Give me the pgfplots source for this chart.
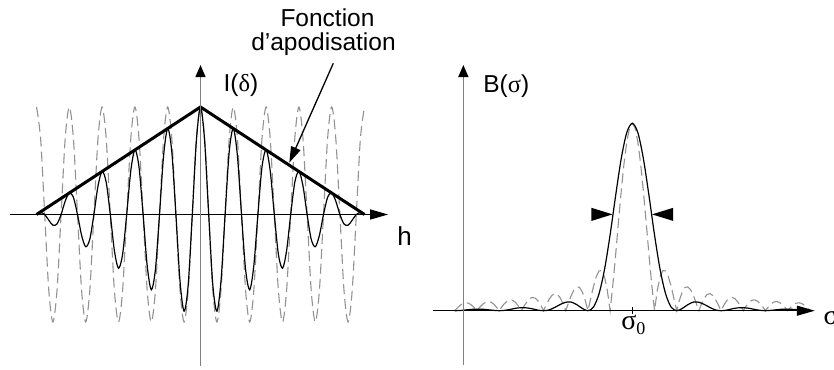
\documentclass[border=0pt]{standalone}
\usepackage{fontspec}
\setmainfont{Liberation Sans}
\newfontfamily\symf{Liberation Serif}
\usepackage{pgfplots}
\pgfplotsset{compat=1.18}
\usetikzlibrary{arrows.meta}
\definecolor{dashgray}{HTML}{929292}
\definecolor{axgray}{HTML}{808080}

\begin{document}
\begin{tikzpicture}[font=\fontsize{12.25}{14}\selectfont]
\useasboundingbox (0pt,0pt) rectangle (417pt,184.5pt);

% interferogramme I(delta)
\begin{axis}[at={(100.25pt,77.25pt)}, anchor=center, x=16.4pt, y=53.75pt,
  xmin=-6, xmax=6, ymin=-1.5, ymax=1.5, hide axis, clip=false]
  % cosinus non apodise
  \addplot[dashgray, line width=0.55pt, dash pattern=on 5pt off 2.5pt, smooth] coordinates {
    (-5,1)(-4.875,.707)(-4.75,0)(-4.625,-.707)(-4.5,-1)(-4.375,-.707)(-4.25,0)(-4.125,.707)
    (-4,1)(-3.875,.707)(-3.75,0)(-3.625,-.707)(-3.5,-1)(-3.375,-.707)(-3.25,0)(-3.125,.707)
    (-3,1)(-2.875,.707)(-2.75,0)(-2.625,-.707)(-2.5,-1)(-2.375,-.707)(-2.25,0)(-2.125,.707)
    (-2,1)(-1.875,.707)(-1.75,0)(-1.625,-.707)(-1.5,-1)(-1.375,-.707)(-1.25,0)(-1.125,.707)
    (-1,1)(-.875,.707)(-.75,0)(-.625,-.707)(-.5,-1)(-.375,-.707)(-.25,0)(-.125,.707)
    (0,1)(.125,.707)(.25,0)(.375,-.707)(.5,-1)(.625,-.707)(.75,0)(.875,.707)
    (1,1)(1.125,.707)(1.25,0)(1.375,-.707)(1.5,-1)(1.625,-.707)(1.75,0)(1.875,.707)
    (2,1)(2.125,.707)(2.25,0)(2.375,-.707)(2.5,-1)(2.625,-.707)(2.75,0)(2.875,.707)
    (3,1)(3.125,.707)(3.25,0)(3.375,-.707)(3.5,-1)(3.625,-.707)(3.75,0)(3.875,.707)
    (4,1)(4.125,.707)(4.25,0)(4.375,-.707)(4.5,-1)(4.625,-.707)(4.75,0)(4.875,.707)
    (5,1)
  };
  % cosinus apodise
  \addplot[black, line width=0.6pt, smooth] coordinates {
    (-5,0)(-4.875,.018)(-4.75,0)(-4.625,-.053)(-4.5,-.1)(-4.375,-.088)(-4.25,0)(-4.125,.124)
    (-4,.2)(-3.875,.159)(-3.75,0)(-3.625,-.194)(-3.5,-.3)(-3.375,-.230)(-3.25,0)(-3.125,.265)
    (-3,.4)(-2.875,.300)(-2.75,0)(-2.625,-.336)(-2.5,-.5)(-2.375,-.371)(-2.25,0)(-2.125,.407)
    (-2,.6)(-1.875,.442)(-1.75,0)(-1.625,-.477)(-1.5,-.7)(-1.375,-.513)(-1.25,0)(-1.125,.548)
    (-1,.8)(-.875,.583)(-.75,0)(-.625,-.619)(-.5,-.9)(-.375,-.654)(-.25,0)(-.125,.689)
    (0,1)
    (.125,.689)(.25,0)(.375,-.654)(.5,-.9)(.625,-.619)(.75,0)(.875,.583)(1,.8)
    (1.125,.548)(1.25,0)(1.375,-.513)(1.5,-.7)(1.625,-.477)(1.75,0)(1.875,.442)(2,.6)
    (2.125,.407)(2.25,0)(2.375,-.371)(2.5,-.5)(2.625,-.336)(2.75,0)(2.875,.300)(3,.4)
    (3.125,.265)(3.25,0)(3.375,-.230)(3.5,-.3)(3.625,-.194)(3.75,0)(3.875,.159)(4,.2)
    (4.125,.124)(4.25,0)(4.375,-.088)(4.5,-.1)(4.625,-.053)(4.75,0)(4.875,.018)(5,0)
  };
  % fonction d'apodisation
  \addplot[black, line width=1.5pt] coordinates {(-5,0)(0,1)(5,0)};
  % axes
  \draw[line width=0.65pt, -{Triangle[length=9pt,width=5pt]}] (axis cs:-5.81,0) -- (axis cs:5.72,0);
  \draw[axgray, line width=0.75pt, -{Triangle[length=6pt,width=5pt,color=black]}] (axis cs:0,-1.41) -- (axis cs:0,1.39);
  \node[anchor=base west, inner sep=0] at (axis cs:0.69,1.14) {I({\symf δ})};
  \node[anchor=base west, inner sep=0] at (axis cs:5.99,-0.284) {\fontsize{13}{14}\selectfont h};
\end{axis}

\node[anchor=base, inner sep=0] at (163.75pt,171pt) {Fonction};
\node[anchor=base, inner sep=0] at (161.75pt,159pt) {d’apodisation};
\draw[line width=0.65pt, -{Triangle[length=8pt,width=5pt]}] (166.65pt,152.85pt) -- (144.65pt,103.15pt);

% spectre B(sigma)
\begin{axis}[at={(316.15pt,29.15pt)}, anchor=center, x=11.1pt, y=93.7pt,
  xmin=-10, xmax=10, ymin=-1.5, ymax=1.5, hide axis, clip=false]
  % sinus cardinal (sans apodisation)
  \addplot[dashgray, line width=0.55pt, dash pattern=on 5pt off 2.5pt] coordinates {
    (-8,0)(-7.875,.015)(-7.75,.029)(-7.625,.039)(-7.5,.042)(-7.375,.040)(-7.25,.031)(-7.125,.017)
    (-7,0)(-6.875,.018)(-6.75,.033)(-6.625,.044)(-6.5,.049)(-6.375,.046)(-6.25,.036)(-6.125,.020)
    (-6,0)(-5.875,.021)(-5.75,.039)(-5.625,.052)(-5.5,.058)(-5.375,.055)(-5.25,.043)(-5.125,.024)
    (-5,0)(-4.875,.025)(-4.75,.047)(-4.625,.064)(-4.5,.071)(-4.375,.067)(-4.25,.053)(-4.125,.030)
    (-4,0)(-3.875,.031)(-3.75,.060)(-3.625,.081)(-3.5,.091)(-3.375,.087)(-3.25,.069)(-3.125,.039)
    (-3,0)(-2.875,.042)(-2.75,.082)(-2.625,.112)(-2.5,.127)(-2.375,.124)(-2.25,.100)(-2.125,.057)
    (-2,0)(-1.875,.065)(-1.75,.129)(-1.625,.181)(-1.5,.212)(-1.375,.214)(-1.25,.180)(-1.125,.108)
    (-1,0)(-.875,.139)(-.75,.300)(-.625,.471)(-.5,.637)(-.375,.784)(-.25,.900)(-.125,.975)
    (0,1)
    (.125,.975)(.25,.900)(.375,.784)(.5,.637)(.625,.471)(.75,.300)(.875,.139)(1,0)
    (1.125,.108)(1.25,.180)(1.375,.214)(1.5,.212)(1.625,.181)(1.75,.129)(1.875,.065)(2,0)
    (2.125,.057)(2.25,.100)(2.375,.124)(2.5,.127)(2.625,.112)(2.75,.082)(2.875,.042)(3,0)
    (3.125,.039)(3.25,.069)(3.375,.087)(3.5,.091)(3.625,.081)(3.75,.060)(3.875,.031)(4,0)
    (4.125,.030)(4.25,.053)(4.375,.067)(4.5,.071)(4.625,.064)(4.75,.047)(4.875,.025)(5,0)
    (5.125,.024)(5.25,.043)(5.375,.055)(5.5,.058)(5.625,.052)(5.75,.039)(5.875,.021)(6,0)
    (6.125,.020)(6.25,.036)(6.375,.046)(6.5,.049)(6.625,.044)(6.75,.033)(6.875,.018)(7,0)
    (7.125,.017)(7.25,.031)(7.375,.040)(7.5,.042)(7.625,.039)(7.75,.029)(7.875,.015)(8,0)
  };
  % sinus cardinal au carre (avec apodisation)
  \addplot[black, line width=0.6pt, smooth] coordinates {
    (-8,0)(-7.75,.001)(-7.5,.004)(-7.25,.007)(-7,.008)(-6.75,.008)(-6.5,.005)(-6.25,.002)
    (-6,0)(-5.75,.002)(-5.5,.007)(-5.25,.013)(-5,.016)(-4.75,.015)(-4.5,.010)(-4.25,.003)
    (-4,0)(-3.75,.004)(-3.5,.017)(-3.25,.033)(-3,.045)(-2.75,.046)(-2.5,.032)(-2.25,.012)
    (-2,0)(-1.75,.019)(-1.5,.090)(-1.25,.221)(-1,.405)(-.75,.615)(-.5,.811)(-.25,.950)
    (0,1)
    (.25,.950)(.5,.811)(.75,.615)(1,.405)(1.25,.221)(1.5,.090)(1.75,.019)(2,0)
    (2.25,.012)(2.5,.032)(2.75,.046)(3,.045)(3.25,.033)(3.5,.017)(3.75,.004)(4,0)
    (4.25,.003)(4.5,.010)(4.75,.015)(5,.016)(5.25,.013)(5.5,.007)(5.75,.002)(6,0)
    (6.25,.002)(6.5,.005)(6.75,.008)(7,.008)(7.25,.007)(7.5,.004)(7.75,.001)(8,0)
  };
  % axes
  \draw[line width=0.65pt, -{Triangle[length=9pt,width=5pt]}] (axis cs:-8.98,0) -- (axis cs:8.22,0);
  \draw[axgray, line width=0.75pt, -{Triangle[length=6pt,width=5pt,color=black]}] (axis cs:-7.61,-0.29) -- (axis cs:-7.61,1.311);
  \draw[line width=0.6pt] (axis cs:0,-0.02) -- (axis cs:0,0.02);
  % largeur a mi-hauteur
  \fill (axis cs:-1.84,0.549) -- (axis cs:-1.84,0.479) -- (axis cs:-0.89,0.514) -- cycle;
  \fill (axis cs:1.84,0.549) -- (axis cs:1.84,0.479) -- (axis cs:0.89,0.514) -- cycle;
  \node[anchor=base west, inner sep=0] at (axis cs:-6.73,1.162) {B({\symf σ})};
  \node[anchor=base, inner sep=0] at (axis cs:0.05,-0.103) {\symf\fontsize{14}{15}\selectfont σ\raisebox{-2.5pt}{\fontsize{9}{9}\selectfont 0}};
  \node[anchor=base west, inner sep=0] at (axis cs:8.6,-0.076) {\symf\fontsize{14}{15}\selectfont σ};
\end{axis}
\end{tikzpicture}
\end{document}
